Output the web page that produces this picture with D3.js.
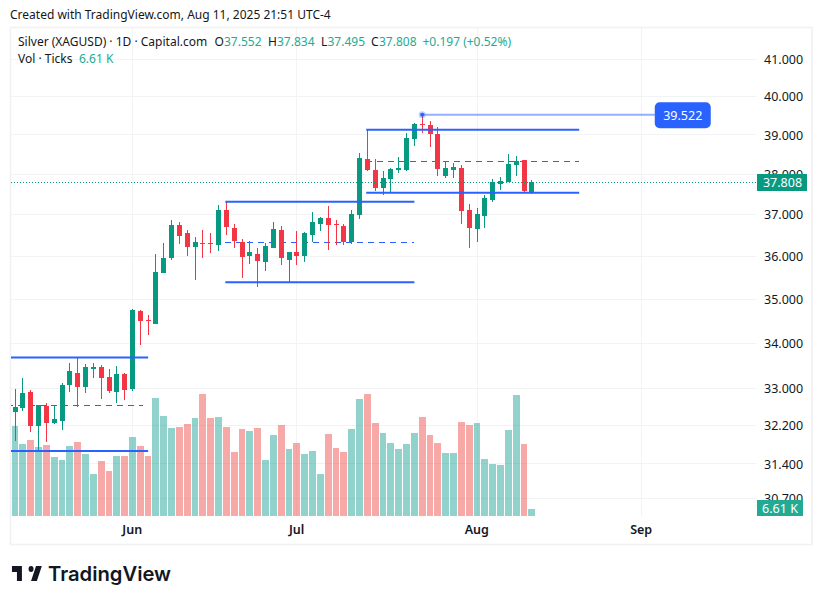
<!DOCTYPE html>
<html>
<head>
<meta charset="utf-8">
<script src="https://cdn.jsdelivr.net/npm/d3@7/dist/d3.min.js"></script>
<style>
html,body{margin:0;padding:0;background:#fff}
svg{display:block}
text{font-family:"Noto Sans",sans-serif}
</style>
</head>
<body>
<svg id="c" width="822" height="604"></svg>
<script>
// Daily bars, in order; index 0 is the first visible session.
const opens = [32.49,32.57,32.92,32.19,32.61,32.25,32.30,33.07,33.33,33.02,33.42,33.46,33.25,32.92,33.31,32.98,34.72,34.52,34.43,35.60,35.95,36.75,36.54,36.21,36.31,36.31,36.26,37.11,36.67,36.34,36.00,36.05,35.86,36.19,36.63,35.91,36.09,36.00,36.50,36.77,36.91,36.77,36.72,36.33,36.99,38.38,38.10,37.65,37.88,38.10,38.10,38.88,39.27,39.25,39.01,37.95,38.10,38.15,37.11,36.65,36.96,37.35,37.75,37.80,38.23,38.35,37.552];
const highs = [32.98,33.22,32.96,32.63,32.68,32.61,33.11,33.55,33.68,33.53,33.55,33.51,33.42,33.49,33.33,34.77,34.74,34.63,36.05,36.31,36.87,36.82,36.63,36.44,36.63,36.54,37.23,37.30,36.77,36.41,36.36,36.19,36.31,36.82,36.72,36.09,36.60,36.58,37.06,36.94,37.21,36.87,36.77,37.11,38.53,39.12,38.38,38.08,38.15,38.43,39.04,39.30,39.522,39.35,39.20,38.33,38.28,38.23,37.25,37.16,37.48,37.88,37.93,38.50,38.45,38.35,37.834];
const lows = [31.87,32.51,32.06,31.66,31.85,32.23,32.10,32.92,32.59,32.89,33.22,32.76,32.89,32.68,32.74,32.94,33.95,34.18,34.43,35.60,35.91,36.29,36.00,35.44,35.95,36.07,36.12,36.50,36.19,35.48,35.81,35.27,35.65,36.19,35.79,35.39,35.79,35.86,36.33,36.60,36.14,36.26,36.26,36.29,36.89,38.08,37.58,37.48,37.53,38.03,38.08,38.70,39.04,38.68,37.95,37.90,37.90,36.77,36.19,36.33,36.67,37.30,37.60,37.80,37.95,37.53,37.495];
const closes = [32.59,32.89,32.19,32.63,32.25,32.34,33.07,33.37,33.02,33.46,33.46,33.22,32.94,33.31,32.96,34.74,34.49,34.49,35.63,35.95,36.75,36.48,36.21,36.34,36.29,36.29,37.11,36.70,36.36,35.98,36.09,35.88,36.24,36.65,35.95,36.09,36.00,36.55,36.82,36.91,36.75,36.75,36.33,37.01,38.40,38.10,37.65,37.90,38.13,38.15,38.91,39.27,39.25,39.01,38.13,38.15,38.18,37.08,36.67,37.01,37.40,37.80,37.83,38.25,38.33,37.58,37.808];
// Volume in thousands of ticks.
const volumes = [85,68,72,65,67,56,53,66,70,58,40,52,42,57,57,74,66,57,111,94,83,84,87,92,115,92,93,84,60,82,80,83,53,76,86,63,69,58,61,40,77,64,60,82,110,115,88,78,69,63,68,78,93,76,69,59,59,89,86,88,54,49,48,81,114,68,6.61];
// Price axis labels.
const priceTicks = [41,40,39,38,37,36,35,34,33,32.2,31.4,30.7];
// Time axis: session index and month label.
const monthIndex = [15,36,59,80];
const monthLabels = ["Jun","Jul","Aug","Sep"];
// Drawn horizontal levels: [from index, to index, price].
const solidLevels = [[-1,17,33.67],[-1,17,31.66],[26.85,51,37.31],[26.85,51,35.38],[44.85,72.05,39.12],[44.85,72.05,37.53]];
const dashedLevels = [[-1,16.4,32.63],[26.85,51,36.32],[44.85,72.05,38.32]];
const notePrice = 39.522, noteFrom = 52, noteTo = 81.7;
const lastPrice = 37.808, lastVol = 6.61;

const GREEN="#089981", RED="#f23645", BLUE="#2962ff", GRID="#f2f3f5", INK="#131722", TEAL="#22ab94";
const svg = d3.select("#c");

const x = d3.scaleLinear().domain([15,66]).range([132.5,531.83]);
const y = d3.scaleLog().domain([41,33]).range([58.5,388]);
const v = d3.scaleLinear().domain([0,115]).range([516,394]);
const px = i => Math.floor(x(i));
const up = i => closes[i] >= opens[i];

svg.append("text").attr("x",10).attr("y",19).attr("font-size",12).attr("fill",INK)
  .text("Created with TradingView.com, Aug 11, 2025 21:51 UTC-4");

// Frame
svg.append("rect").attr("x",10.5).attr("y",27.5).attr("width",801.5).attr("height",517)
  .attr("fill","none").attr("stroke","#f0f1f3").attr("stroke-width",1.6);

const clipDef = svg.append("defs").append("clipPath").attr("id","pane");
clipDef.append("rect").attr("x",11).attr("y",28).attr("width",745).attr("height",488);

// Grid
const grid = svg.append("g").attr("shape-rendering","crispEdges").attr("stroke",GRID);
grid.selectAll(".h").data(priceTicks).join("line")
  .attr("x1",11).attr("x2",756).attr("y1",d=>Math.round(y(d))+.5).attr("y2",d=>Math.round(y(d))+.5);
grid.selectAll(".vv").data(monthIndex).join("line")
  .attr("x1",d=>px(d)+.5).attr("x2",d=>px(d)+.5).attr("y1",28).attr("y2",516);

const pane = svg.append("g").attr("clip-path","url(#pane)");

// Volume
pane.append("g").attr("shape-rendering","crispEdges").selectAll("rect").data(volumes).join("rect")
  .attr("x",(d,i)=>px(i)-3)
  .attr("width",(d,i)=>Math.min(7,(px(i+1)-3)-(px(i)-3)-1))
  .attr("y",d=>v(d)).attr("height",d=>516-v(d))
  .attr("fill",(d,i)=>up(i)?"#26a69a":"#ef5350").attr("fill-opacity",.5);

// Dashed levels sit behind the candles
pane.append("g").attr("shape-rendering","crispEdges").selectAll("line").data(dashedLevels).join("line")
  .attr("x1",d=>x(d[0])).attr("x2",d=>x(d[1]))
  .attr("y1",d=>Math.floor(y(d[2]))+.5).attr("y2",d=>Math.floor(y(d[2]))+.5)
  .attr("stroke",BLUE).attr("stroke-width",1).attr("stroke-dasharray","6 5");

// Candles
const candles = pane.append("g").attr("shape-rendering","crispEdges");
candles.selectAll(".w").data(opens).join("rect")
  .attr("x",(d,i)=>px(i)).attr("width",1)
  .attr("y",(d,i)=>y(highs[i])).attr("height",(d,i)=>y(lows[i])-y(highs[i]))
  .attr("fill",(d,i)=>up(i)?GREEN:RED);
candles.selectAll(".b").data(opens).join("rect")
  .attr("x",(d,i)=>px(i)-2).attr("width",5)
  .attr("y",(d,i)=>y(Math.max(opens[i],closes[i])))
  .attr("height",(d,i)=>Math.max(1,Math.abs(y(opens[i])-y(closes[i]))))
  .attr("fill",(d,i)=>up(i)?GREEN:RED);

// Solid levels
pane.append("g").selectAll("line").data(solidLevels).join("line")
  .attr("x1",d=>x(d[0])).attr("x2",d=>x(d[1])).attr("y1",d=>y(d[2])).attr("y2",d=>y(d[2]))
  .attr("stroke",BLUE).attr("stroke-width",2);

// Last price line
pane.append("line").attr("x1",11).attr("x2",756).attr("y1",Math.round(y(lastPrice))+.5).attr("y2",Math.round(y(lastPrice))+.5)
  .attr("stroke",GREEN).attr("stroke-width",1).attr("stroke-dasharray","1 2").attr("shape-rendering","crispEdges");

// Price note
pane.append("line").attr("x1",x(noteFrom)).attr("x2",x(noteTo)).attr("y1",y(notePrice)+.5).attr("y2",y(notePrice)+.5)
  .attr("stroke",BLUE).attr("stroke-opacity",.5).attr("stroke-width",2);
pane.append("circle").attr("cx",x(noteFrom)).attr("cy",y(notePrice)+.5).attr("r",3.5).attr("fill",BLUE).attr("fill-opacity",.3);
pane.append("circle").attr("cx",x(noteFrom)).attr("cy",y(notePrice)+.5).attr("r",2).attr("fill",BLUE);
svg.append("rect").attr("x",x(noteTo)).attr("y",y(notePrice)-12).attr("width",56).attr("height",26).attr("rx",5).attr("fill",BLUE);
svg.append("text").attr("x",x(noteTo)+28).attr("y",y(notePrice)+5.5).attr("text-anchor","middle")
  .attr("font-size",12.5).attr("fill","#fff").text(d3.format(".3f")(notePrice));

// Axes
const yAxis = svg.append("g").attr("transform","translate(756,0.6)")
  .call(d3.axisRight(y).tickValues(priceTicks).tickFormat(d3.format(".3f")).tickSize(0).tickPadding(8));
yAxis.select(".domain").remove();
yAxis.selectAll("text").attr("font-size",12.5).attr("fill",INK).style("font-family",'"Noto Sans",sans-serif');

const xAxis = svg.append("g").attr("transform","translate(-0.8,516)")
  .call(d3.axisBottom(x).tickValues(monthIndex).tickFormat((d,i)=>monthLabels[i]).tickSize(0).tickPadding(9));
xAxis.select(".domain").remove();
xAxis.selectAll("text").attr("font-size",12.5).attr("font-weight",600).attr("fill",INK).style("font-family",'"Noto Sans",sans-serif');

// Axis tags
svg.append("rect").attr("x",757).attr("y",174).attr("width",50).attr("height",17).attr("fill",GREEN);
svg.append("text").attr("x",782.5).attr("y",187).attr("text-anchor","middle").attr("font-size",12.5).attr("fill","#fff").text(d3.format(".3f")(lastPrice));
svg.append("rect").attr("x",757).attr("y",500).attr("width",46).attr("height",16).attr("fill",TEAL);
svg.append("text").attr("x",780).attr("y",512.5).attr("text-anchor","middle").attr("font-size",12.5).attr("fill","#fff").text(lastVol+" K");

// Legend
const legend = svg.append("g").attr("font-size",12);
const leg = (xp,yp,t,c)=>legend.append("text").attr("x",xp).attr("y",yp).attr("fill",c).text(t);
leg(18,46,"Silver (XAGUSD) · 1D · Capital.com",INK);
leg(214.5,46,"O",INK); leg(224,46,"37.552",TEAL);
leg(268,46,"H",INK); leg(277,46,"37.834",TEAL);
leg(321,46,"L",INK); leg(327.5,46,"37.495",TEAL);
leg(371,46,"C",INK); leg(379,46,"37.808",TEAL);
leg(422.5,46,"+0.197 (+0.52%)",TEAL);
leg(18,63,"Vol · Ticks",INK); leg(79,63,"6.61 K",TEAL);

// Logo
svg.append("path").attr("transform","translate(10.3,560) scale(0.83,1)")
  .attr("d","M14 6H2v6h6v9h6V6zm18 15h-7l6-15h7l-6 15zm-7-9a3 3 0 1 0 0-6 3 3 0 0 0 0 6z").attr("fill","#131722");
svg.append("text").attr("x",48).attr("y",581).attr("font-size",20.2).attr("font-weight",600)
  .attr("fill","#131722").style("font-family","Inter,sans-serif").text("TradingView");
</script>
</body>
</html>
